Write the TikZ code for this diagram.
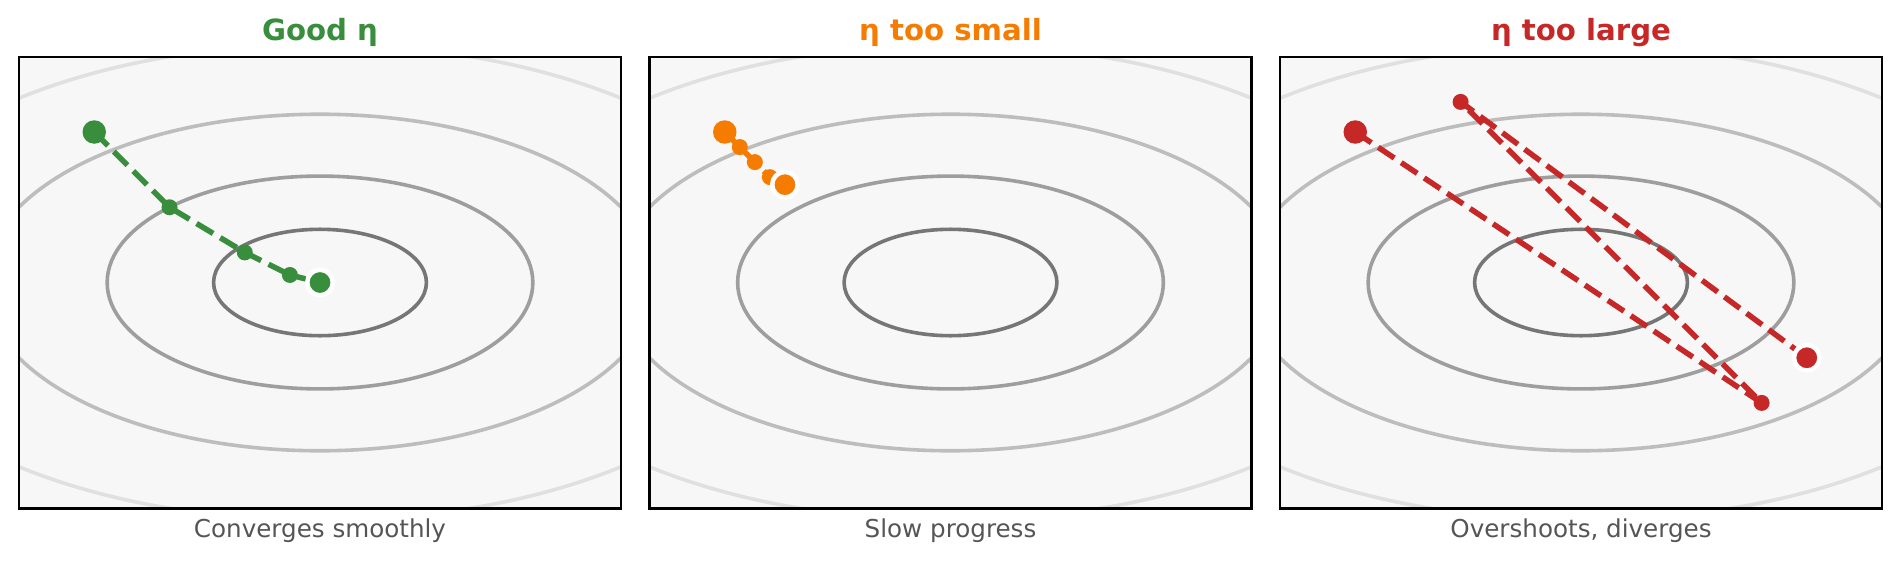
\documentclass[tikz,border=0pt]{standalone}
\usepackage{fontspec}
\setmainfont{DejaVu Sans}
\definecolor{cgreen}{HTML}{388E3C}
\definecolor{corange}{HTML}{F57C00}
\definecolor{cred}{HTML}{C62828}
\definecolor{lvA}{HTML}{767676}
\definecolor{lvB}{HTML}{9E9E9E}
\definecolor{lvC}{HTML}{BDBDBD}
\definecolor{lvD}{HTML}{E0E0E0}
\definecolor{panelfill}{HTML}{F7F7F7}
\definecolor{labelgray}{HTML}{555555}
\newcommand{\panelbase}[1]{%
  \begin{scope}[shift={(#1,282.5)},x=75.25pt,y=75.25pt]
    \fill[panelfill] (-4,-3) rectangle (4,3);
    \begin{scope}
      \clip (-4,-3) rectangle (4,3);
      \draw[contour,lvD] (0,0) ellipse [x radius=6.3246,y radius=3.1623];
      \draw[contour,lvC] (0,0) ellipse [x radius=4.4721,y radius=2.2361];
      \draw[contour,lvB] (0,0) ellipse [x radius=2.8284,y radius=1.4142];
      \draw[contour,lvA] (0,0) ellipse [x radius=1.4142,y radius=0.7071];
    \end{scope}
    \draw[frame] (-4,-3) rectangle (4,3);
  \end{scope}}
\begin{document}
\begin{tikzpicture}[x=1pt,y=-1pt,
  contour/.style={line width=3.6pt},
  frame/.style={draw=black,line width=2.5pt},
  gdpath/.style={line width=5.5pt,dash pattern=on 19.3pt off 8.3pt,line cap=butt},
  bigdot/.style={circle,inner sep=0pt,minimum size=23.5pt},
  smalldot/.style={circle,inner sep=0pt,minimum size=16pt},
  enddot/.style={circle,inner sep=0pt,minimum size=25.5pt,draw=white,line width=4.5pt},
  ttl/.style={font=\bfseries\fontsize{29.2}{32}\selectfont,anchor=base,inner sep=0pt},
  lbl/.style={font=\fontsize{24.6}{28}\selectfont,text=labelgray,anchor=base,inner sep=0pt}]
\useasboundingbox (0,0) rectangle (1900,562);
\fill[white] (0,0) rectangle (1900,562);

% panel bases
\panelbase{320}
\panelbase{950.5}
\panelbase{1581}

% titles and labels
\node[ttl,text=cgreen] (t1) at (320,40.7) {Good η};
\node[ttl,text=corange] (t2) at (950.5,40.7) {η too small};
\node[ttl,text=cred] (t3) at (1581,40.7) {η too large};
\node[lbl] (l1) at (320,537.7) {Converges smoothly};
\node[lbl] (l2) at (950.5,537.7) {Slow progress};
\node[lbl] (l3) at (1581,537.7) {Overshoots, diverges};

% panel 1: good
\begin{scope}[shift={(320,282.5)},x=75.25pt,y=75.25pt]
  \coordinate (g0) at (-3,2);
  \coordinate (g1) at (-2,1);
  \coordinate (g2) at (-1,0.4);
  \coordinate (g3) at (-0.4,0.1);
  \coordinate (g4) at (0,0);
  \draw[gdpath,cgreen] (g0) -- (g1) -- (g2) -- (g3) -- (g4);
  \node[bigdot,fill=cgreen] (g0m) at (g0) {};
  \node[smalldot,fill=cgreen] (g1m) at (g1) {};
  \node[smalldot,fill=cgreen] (g2m) at (g2) {};
  \node[smalldot,fill=cgreen] (g3m) at (g3) {};
  \node[enddot,fill=cgreen] (g4m) at (g4) {};
\end{scope}

% panel 2: too small
\begin{scope}[shift={(950.5,282.5)},x=75.25pt,y=75.25pt]
  \coordinate (o0) at (-3,2);
  \coordinate (o1) at (-2.8,1.8);
  \coordinate (o2) at (-2.6,1.6);
  \coordinate (o3) at (-2.4,1.4);
  \coordinate (o4) at (-2.2,1.3);
  \draw[gdpath,corange] (o0) -- (o1) -- (o2) -- (o3) -- (o4);
  \node[bigdot,fill=corange] (o0m) at (o0) {};
  \node[smalldot,fill=corange] (o1m) at (o1) {};
  \node[smalldot,fill=corange] (o2m) at (o2) {};
  \node[smalldot,fill=corange] (o3m) at (o3) {};
  \node[enddot,fill=corange] (o4m) at (o4) {};
\end{scope}

% panel 3: too large
\begin{scope}[shift={(1581,282.5)},x=75.25pt,y=75.25pt]
  \coordinate (r0) at (-3,2);
  \coordinate (r1) at (2.4,-1.6);
  \coordinate (r2) at (-1.6,2.4);
  \coordinate (r3) at (3,-1);
  \draw[gdpath,cred] (r0) -- (r1) -- (r2) -- (r3);
  \node[bigdot,fill=cred] (r0m) at (r0) {};
  \node[smalldot,fill=cred] (r1m) at (r1) {};
  \node[smalldot,fill=cred] (r2m) at (r2) {};
  \node[enddot,fill=cred] (r3m) at (r3) {};
\end{scope}
\end{tikzpicture}
\end{document}
